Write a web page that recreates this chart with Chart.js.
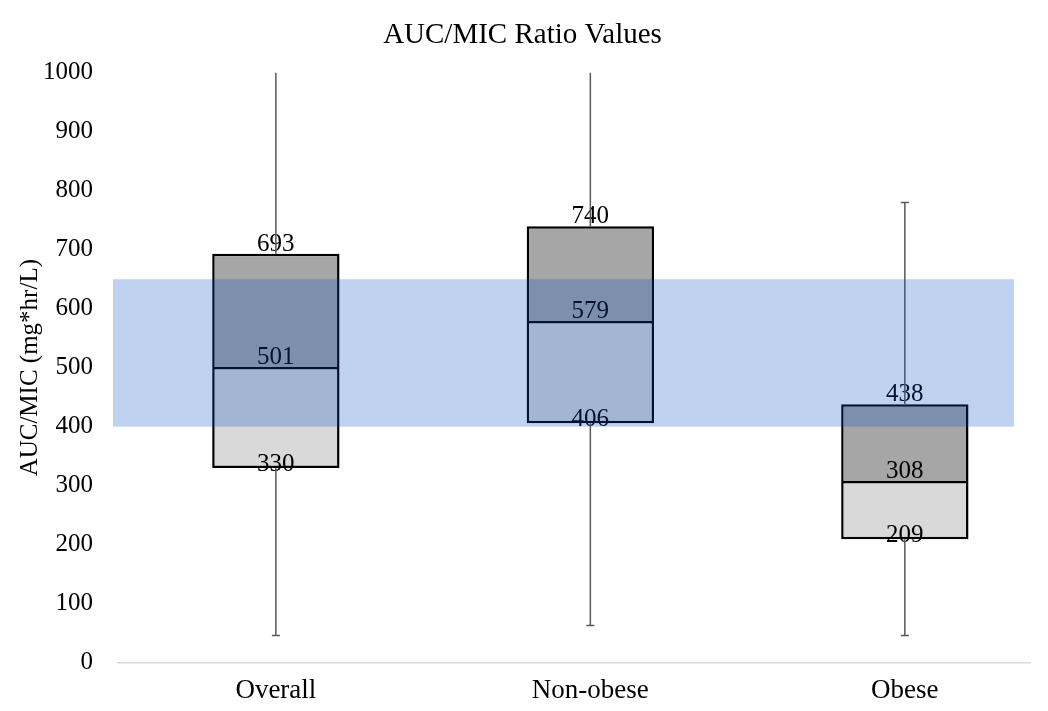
<!DOCTYPE html>
<html>
<head>
<meta charset="utf-8">
<script src="https://cdn.jsdelivr.net/npm/chart.js@4"></script>
<style>
  html, body { margin: 0; padding: 0; background: #fff; }
  #wrap { width: 1048px; height: 711px; }
</style>
</head>
<body>
<div id="wrap"><canvas id="boxChart"></canvas></div>
<script>
const categories = ['Overall', 'Non-obese', 'Obese'];
const minVals = [46, 63, 46];
const q1Vals = [330, 406, 209];
const medianVals = [501, 579, 308];
const q3Vals = [693, 740, 438];
const maxVals = [1000, 1000, 780];
const targetRange = [400, 650];

const FONT = '"Liberation Serif", "Times New Roman", serif';

// lower box (Q1 -> median) and upper box (median -> Q3) as floating bars
const lowerBox = categories.map((c, i) => ({ x: i, y: [q1Vals[i], medianVals[i]] }));
const upperBox = categories.map((c, i) => ({ x: i, y: [medianVals[i], q3Vals[i]] }));

const boxExtras = {
    id: 'boxExtras',
    afterDatasetsDraw(chart) {
        const { ctx, chartArea } = chart;
        const x = chart.scales.x;
        const y = chart.scales.y;
        ctx.save();

        // value labels
        ctx.font = '25px ' + FONT;
        ctx.fillStyle = '#000';
        ctx.textAlign = 'center';
        ctx.textBaseline = 'alphabetic';
        categories.forEach((c, i) => {
            const px = x.getPixelForValue(i);
            ctx.fillText(q1Vals[i], px, y.getPixelForValue(q1Vals[i]) + 3);
            ctx.fillText(medianVals[i], px, y.getPixelForValue(medianVals[i]) - 3);
            ctx.fillText(q3Vals[i], px, y.getPixelForValue(q3Vals[i]) - 3);
        });

        // whiskers
        ctx.strokeStyle = '#595959';
        ctx.lineWidth = 1.5;
        categories.forEach((c, i) => {
            const px = x.getPixelForValue(i);
            const yMin = y.getPixelForValue(minVals[i]);
            const yMax = y.getPixelForValue(maxVals[i]);
            ctx.beginPath();
            ctx.moveTo(px, yMax);
            ctx.lineTo(px, y.getPixelForValue(q3Vals[i]));
            ctx.moveTo(px, y.getPixelForValue(q1Vals[i]));
            ctx.lineTo(px, yMin);
            ctx.moveTo(px - 4, yMin);
            ctx.lineTo(px + 4, yMin);
            if (maxVals[i] < y.max) {
                ctx.moveTo(px - 4, yMax);
                ctx.lineTo(px + 4, yMax);
            }
            ctx.stroke();
        });

        // target band
        const top = y.getPixelForValue(targetRange[1]);
        const bottom = y.getPixelForValue(targetRange[0]);
        ctx.fillStyle = 'rgba(0, 75, 195, 0.25)';
        ctx.fillRect(chartArea.left - 5, top, chartArea.right - 16 - (chartArea.left - 5), bottom - top);
        ctx.restore();
    }
};

const ctx = document.getElementById('boxChart').getContext('2d');
const chart = new Chart(ctx, {
    type: 'bar',
    data: {
        datasets: [
            {
                label: 'Q1 - Median',
                data: lowerBox,
                backgroundColor: '#d9d9d9',
                borderColor: '#000',
                borderWidth: 2.5,
                borderSkipped: false,
                grouped: false,
                barPercentage: 0.405,
                categoryPercentage: 1
            },
            {
                label: 'Median - Q3',
                data: upperBox,
                backgroundColor: '#a6a6a6',
                borderColor: '#000',
                borderWidth: 2.5,
                borderSkipped: 'bottom',
                grouped: false,
                barPercentage: 0.405,
                categoryPercentage: 1
            }
        ]
    },
    options: {
        responsive: true,
        maintainAspectRatio: false,
        animation: false,
        layout: { padding: { top: 14, right: 18, bottom: 0, left: 15 } },
        plugins: {
            legend: { display: false },
            tooltip: { enabled: false },
            title: {
                display: true,
                text: 'AUC/MIC Ratio Values',
                color: '#000',
                font: { family: FONT, size: 29, weight: 'normal' },
                padding: { top: 4, bottom: 20 }
            }
        },
        scales: {
            x: {
                type: 'linear',
                offset: false,
                min: -0.502,
                max: 2.398,
                afterBuildTicks: (scale) => {
                    scale.ticks = categories.map((c, i) => ({ value: i }));
                },
                grid: { display: false },
                border: { display: true, color: '#d9d9d9', width: 1.5 },
                ticks: {
                    color: '#000',
                    font: { family: FONT, size: 27 },
                    padding: 4,
                    maxRotation: 0,
                    autoSkip: false,
                    callback: (v) => categories[v]
                }
            },
            y: {
                min: 0,
                max: 1000,
                afterFit: (scale) => { scale.width = 103; },
                grid: { display: false },
                border: { display: false },
                ticks: {
                    stepSize: 100,
                    color: '#000',
                    font: { family: FONT, size: 25 },
                    padding: 17,
                    callback: (v) => String(v)
                },
                title: {
                    display: true,
                    text: 'AUC/MIC (mg*hr/L)',
                    color: '#000',
                    font: { family: FONT, size: 25 },
                    padding: { top: 0, bottom: 0 }
                }
            }
        }
    },
    plugins: [boxExtras]
});
</script>
</body>
</html>
